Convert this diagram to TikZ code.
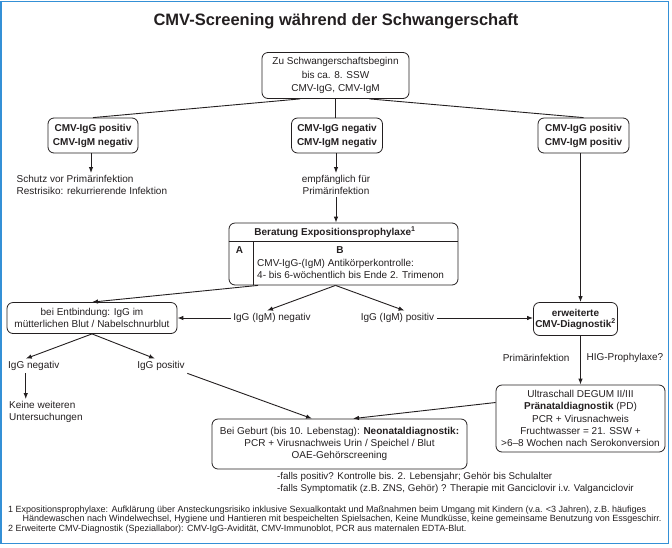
\documentclass[tikz,border=0pt]{standalone}
\usepackage{fontspec}
\setmainfont{Liberation Sans}
\usetikzlibrary{arrows.meta}
\definecolor{frameblue}{RGB}{52,144,214}
\definecolor{ink}{RGB}{35,31,32}
\begin{document}
\begin{tikzpicture}[x=1pt,y=-1pt,
  fr/.style={font=\fontsize{10}{12}\selectfont},
  frb/.style={font=\fontsize{10}{14}\selectfont\bfseries},
  box/.style={draw=ink, line width=0.8pt, rounded corners=6pt, align=center, inner sep=0pt, text=ink},
  lbl/.style={inner sep=2.5pt, align=center, text=ink},
  arr/.style={draw=ink, line width=0.9pt, -{Latex[length=6pt,width=4.5pt]}},
  ln/.style={draw=ink, line width=0.9pt}]
\useasboundingbox (0,0) rectangle (672,547);
\draw[frameblue, line width=1.3pt] (0.9,1.4) rectangle (668.4,543.2);

% title
\node[text=ink, font=\fontsize{16.5}{18}\selectfont\bfseries] (title) at (336,21) {CMV-Screening während der Schwangerschaft};

% top box
\node[box, minimum width=147pt, minimum height=46pt, font=\fontsize{10}{13.5}\selectfont] (top) at (335.5,75.5) {Zu Schwangerschaftsbeginn\\bis ca. 8. SSW\\CMV-IgG, CMV-IgM};

% row 2
\node[box, frb, minimum width=90pt, minimum height=35pt] (l2) at (93,135.5) {CMV-IgG positiv\\CMV-IgM negativ};
\node[box, frb, minimum width=91pt, minimum height=35pt] (m2) at (337,135.5) {CMV-IgG negativ\\CMV-IgM negativ};
\node[box, frb, minimum width=91pt, minimum height=35pt] (r2) at (583.5,135.5) {CMV-IgG positiv\\CMV-IgM positiv};

\draw[ln] ([xshift=-35.5pt]top.south) -- (l2.north);
\draw[ln] (top.south) -- (top.south |- m2.north);
\draw[ln] ([xshift=34pt]top.south) -- (r2.north);

% texts below row 2
\node[lbl, align=left, anchor=north west, font=\fontsize{10}{11.5}\selectfont] (schutz) at (14,173) {Schutz vor Primärinfektion\\Restrisiko: rekurrierende Infektion};
\node[lbl, anchor=north, font=\fontsize{10}{11.5}\selectfont] (empf) at (336,173) {empfänglich für\\Primärinfektion};
\draw[arr] ([xshift=-2pt]l2.south) -- ([xshift=-2pt]l2.south |- schutz.north);
\draw[arr] (empf.north |- m2.south) -- (empf.north);

% Beratung box
\node[box, minimum width=229pt, minimum height=62pt] (berat) at (343.5,254) {};
\coordinate (hl) at (0,241);
\coordinate (dv) at (253,241);
\draw[draw=ink, line width=0.8pt] (berat.west |- hl) -- (berat.east |- hl);
\draw[draw=ink, line width=0.8pt] (dv) -- (dv |- berat.south);
\node[text=ink, frb] (bh) at (335,232) {Beratung Expositionsprophylaxe\textsuperscript{1}};
\node[text=ink, frb] (ba) at (239.5,250) {A};
\node[text=ink, frb] (bb) at (340,250) {B};
\node[text=ink, fr, anchor=north west, align=left, inner sep=0pt] (bt) at (257,259.5) {CMV-IgG-(IgM) Antikörperkontrolle:\\4- bis 6-wöchentlich bis Ende 2. Trimenon};
\draw[arr] (empf.south) -- (empf.south |- berat.north);

% middle row
\node[box, minimum width=170pt, minimum height=31pt, font=\fontsize{10}{11.5}\selectfont] (ent) at (92,318) {bei Entbindung: IgG im\\mütterlichen Blut / Nabelschnurblut};
\node[lbl, fr] (neg) at (272,318) {IgG (IgM) negativ};
\node[lbl, fr] (pos) at (397.5,318) {IgG (IgM) positiv};
\node[box, font=\fontsize{10}{11}\selectfont\bfseries, minimum width=84pt, minimum height=33pt] (erw) at (575.5,319) {erweiterte\\CMV-Diagnostik\textsuperscript{2}};
\node[box, minimum width=169pt, minimum height=67pt, font=\fontsize{10}{12.2}\selectfont] (ultra) at (580.5,418.5) {Ultraschall DEGUM II/III\\\textbf{Pränataldiagnostik} (PD)\\PCR + Virusnachweis\\Fruchtwasser = 21. SSW +\\>6–8 Wochen nach Serokonversion};

\draw[arr] ([xshift=-85.5pt]berat.south) -- (ent.north);
\draw[arr] ([xshift=-8pt]berat.south) -- ([xshift=-5pt]neg.north);
\draw[arr] ([xshift=-8pt]berat.south) -- ([xshift=7pt]pos.north);
\draw[arr] (neg.west) -- (ent.east);
\draw[arr] (pos.east) -- (pos.east -| erw.west);
\draw[arr] (r2.south -| ultra.north) -- (erw.north -| ultra.north);
\draw[arr] (erw.south -| ultra.north) -- (ultra.north);
\node[text=ink, fr, anchor=east] (prim) at (573,358) {Primärinfektion};
\node[text=ink, fr, anchor=west] (hig) at (583,358) {HIG-Prophylaxe?};

% lower left
\node[lbl, fr, anchor=west] (ign) at (5.5,366) {IgG negativ};
\node[lbl, fr] (igp) at (161,366) {IgG positiv};
\draw[arr] (ent.south) -- ([xshift=-8pt]ign.north);
\draw[arr] (ent.south) -- ([xshift=-6pt]igp.north);
\node[lbl, anchor=north west, align=left, font=\fontsize{10}{11.5}\selectfont] (keine) at (6.5,399) {Keine weiteren\\Untersuchungen};
\draw[arr] ([xshift=-8pt]ign.south) -- ([xshift=-8pt]ign.south |- keine.north);

% neonatal
\node[box, minimum width=255pt, minimum height=50pt, font=\fontsize{10}{11.7}\selectfont] (neo) at (339.5,444) {Bei Geburt (bis 10. Lebenstag): \textbf{Neonataldiagnostik:}\\PCR + Virusnachweis Urin / Speichel / Blut\\OAE-Gehörscreening};
\draw[arr] (igp.south east) -- ([xshift=-27.5pt]neo.north);
\draw[arr] ([yshift=16pt]ultra.west) -- ([xshift=13.5pt]neo.north);

\node[text=ink, anchor=north west, align=left, inner sep=0pt, font=\fontsize{9.8}{12}\selectfont] (falls) at (277,472.5) {-falls positiv? Kontrolle bis. 2. Lebensjahr; Gehör bis Schulalter\\-falls Symptomatik (z.B. ZNS, Gehör) ? Therapie mit Ganciclovir i.v. Valganciclovir};

% footnotes
\node[text=ink, anchor=north west, align=left, inner sep=0pt, font=\fontsize{9}{9.6}\selectfont] (fn) at (8,505.5) {1 Expositionsprophylaxe: Aufklärung über Ansteckungsrisiko inklusive Sexualkontakt und Maßnahmen beim Umgang mit Kindern (v.a. <3 Jahren), z.B. häufiges\\\hspace*{14.5pt}Händewaschen nach Windelwechsel, Hygiene und Hantieren mit bespeichelten Spielsachen, Keine Mundküsse, keine gemeinsame Benutzung von Essgeschirr.\\2 Erweiterte CMV-Diagnostik (Speziallabor): CMV-IgG-Avidität, CMV-Immunoblot, PCR aus maternalen EDTA-Blut.};
\end{tikzpicture}
\end{document}
